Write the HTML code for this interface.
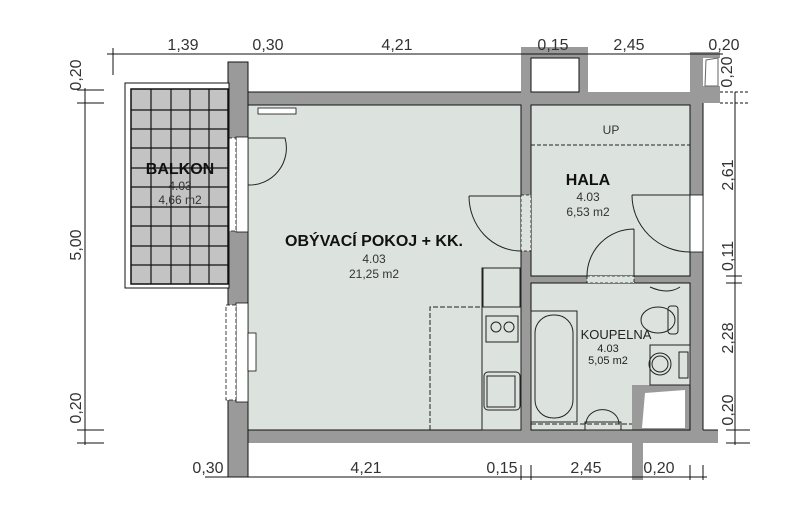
<!DOCTYPE html>
<html><head><meta charset="utf-8"><style>
html,body{margin:0;padding:0;background:#fff;width:794px;height:532px;overflow:hidden}
svg{display:block}
text{font-family:"Liberation Sans",sans-serif;fill:#222}
.d{font-size:16px;fill:#333}
.b{font-weight:bold;fill:#111}
.s{font-size:12px;fill:#333}
</style></head><body>
<svg width="794" height="532" viewBox="0 0 794 532" xmlns="http://www.w3.org/2000/svg">
<rect x="248" y="105" width="274" height="325" fill="#dce3df"/>
<rect x="531" y="105" width="160" height="171" fill="#dce3df"/>
<rect x="531" y="283" width="160" height="147" fill="#dce3df"/>
<g fill="#9a9a9a">
<rect x="228" y="62" width="20" height="415"/>
<rect x="248" y="92" width="455" height="13"/>
<rect x="521" y="47" width="10" height="383"/>
<rect x="531" y="47" width="57" height="11"/>
<rect x="579" y="47" width="9" height="45"/>
<rect x="690" y="52" width="13" height="391"/>
<rect x="703" y="52" width="17" height="6"/>
<rect x="703" y="86" width="17" height="17"/>
<rect x="531" y="276" width="160" height="7"/>
<rect x="228" y="430" width="490" height="13"/>
<rect x="632" y="385" width="58" height="45"/>
<rect x="632" y="430" width="11" height="50"/>
</g>
<g fill="none" stroke="#111" stroke-width="1">
<rect x="228" y="62" width="20" height="415"/>
<rect x="248" y="105" width="273" height="325"/>
<rect x="531" y="105" width="159" height="171"/>
<rect x="531" y="283" width="159" height="147"/>
<line x1="248" y1="92" x2="521" y2="92"/>
<rect x="531" y="58" width="48" height="34" fill="#fff"/>
<line x1="703" y1="103" x2="703" y2="430"/>
<line x1="703" y1="430" x2="718" y2="430"/>
</g>
<polygon points="706,60 718,58 718,86 705,86" fill="#fff" stroke="#666"/>
<polygon points="645,393 685,390 685,428 642,428" fill="#fff"/>
<rect x="521" y="195" width="10" height="56" fill="#dce3df" stroke="#111" stroke-width="0.8" stroke-dasharray="3,2"/>
<rect x="690" y="195" width="13" height="57" fill="#fff" stroke="#111" stroke-width="0.8"/>
<rect x="587" y="276" width="47" height="7" fill="#dce3df" stroke="#111" stroke-width="0.8" stroke-dasharray="3,2"/>
<g fill="#fff" stroke="#111" stroke-width="0.8">
<rect x="236" y="137" width="12" height="95"/>
<rect x="228" y="138" width="8" height="93" stroke-dasharray="4,2"/>
<rect x="236" y="303" width="12" height="99"/>
<rect x="226" y="305" width="10" height="95" stroke-dasharray="4,2"/>
<rect x="248" y="333" width="8" height="38"/>
<rect x="258" y="108" width="38" height="6"/>
</g>
<rect x="125" y="83" width="104" height="205" fill="#fff" stroke="#111"/>
<rect x="131" y="89" width="97" height="195" fill="#c3c3c3" stroke="#111" stroke-width="1.5"/>
<g stroke="#111" stroke-width="1.2">
<line x1="151" y1="89" x2="151" y2="284"/><line x1="171" y1="89" x2="171" y2="284"/>
<line x1="190" y1="89" x2="190" y2="284"/><line x1="209" y1="89" x2="209" y2="284"/>
<line x1="131" y1="110" x2="228" y2="110"/><line x1="131" y1="129" x2="228" y2="129"/>
<line x1="131" y1="148" x2="228" y2="148"/><line x1="131" y1="168" x2="228" y2="168"/>
<line x1="131" y1="187" x2="228" y2="187"/><line x1="131" y1="207" x2="228" y2="207"/>
<line x1="131" y1="226" x2="228" y2="226"/><line x1="131" y1="246" x2="228" y2="246"/>
<line x1="131" y1="265" x2="228" y2="265"/>
</g>
<g fill="none" stroke="#222" stroke-width="1">
<path d="M248,138 L285,138 A37,37 0 0 1 248,185"/>
<path d="M469,196 L521,196 M469,196 A52,55 0 0 0 521,251"/>
<path d="M632,195 L690,195 M632,195 A58,57 0 0 0 690,252"/>
<path d="M634,229 L634,276 M634,229 A47,47 0 0 0 587,276"/>
<line x1="531" y1="145" x2="690" y2="145" stroke-dasharray="4,2"/>
<rect x="482" y="268" width="39" height="162"/>
<rect x="483" y="268" width="37" height="39"/>
<rect x="486" y="316" width="32" height="26"/>
<circle cx="496" cy="327" r="5"/><circle cx="509" cy="327" r="5"/>
<rect x="484" y="372" width="36" height="38" rx="4"/>
<rect x="487" y="376" width="28" height="31"/>
<path d="M430,430 L430,307 L482,307" stroke-dasharray="5,2"/>
<rect x="531" y="311" width="46" height="111"/>
<rect x="535" y="315" width="38" height="103" rx="18"/>
<line x1="531" y1="424" x2="632" y2="424" stroke-dasharray="5,2"/>
<path d="M586,424 A16,14 0 1 1 619,424"/>
<rect x="585" y="422" width="36" height="8"/>
<ellipse cx="658" cy="320" rx="17" ry="13"/>
<rect x="668" y="306" width="10" height="28" rx="3"/>
<path d="M650,287 Q668,295 680,287"/>
<rect x="650" y="345" width="40" height="40"/>
<circle cx="660" cy="364" r="11"/><circle cx="660" cy="364" r="8"/>
<rect x="679" y="352" width="9" height="26"/>
</g>
<g stroke="#111" stroke-width="1" fill="none">
<line x1="107" y1="54" x2="723" y2="54"/>
<line x1="113" y1="48" x2="113" y2="75"/>
<line x1="85" y1="88" x2="85" y2="445"/>
<line x1="77" y1="90" x2="104" y2="90"/><line x1="77" y1="103" x2="104" y2="103"/>
<line x1="77" y1="430" x2="104" y2="430"/><line x1="77" y1="443" x2="104" y2="443"/>
<line x1="735" y1="92" x2="735" y2="445"/>
<line x1="720" y1="92" x2="750" y2="92" stroke-dasharray="3,2"/><line x1="720" y1="103" x2="750" y2="103" stroke-dasharray="3,2"/>
<line x1="726" y1="276" x2="742" y2="276"/><line x1="726" y1="283" x2="742" y2="283"/>
<line x1="726" y1="430" x2="750" y2="430"/><line x1="726" y1="443" x2="750" y2="443"/>
<line x1="205" y1="477" x2="707" y2="477"/>
<line x1="521" y1="465" x2="521" y2="480"/><line x1="531" y1="465" x2="531" y2="480"/>
<line x1="690" y1="465" x2="690" y2="480"/><line x1="703" y1="465" x2="703" y2="480"/>
</g>
<text class="d" x="183" y="50" text-anchor="middle">1,39</text>
<text class="d" x="268" y="50" text-anchor="middle">0,30</text>
<text class="d" x="397" y="50" text-anchor="middle">4,21</text>
<text class="d" x="553" y="50" text-anchor="middle">0,15</text>
<text class="d" x="629" y="50" text-anchor="middle">2,45</text>
<text class="d" x="724" y="50" text-anchor="middle">0,20</text>
<text class="d" x="208" y="473" text-anchor="middle">0,30</text>
<text class="d" x="366" y="473" text-anchor="middle">4,21</text>
<text class="d" x="502" y="473" text-anchor="middle">0,15</text>
<text class="d" x="586" y="473" text-anchor="middle">2,45</text>
<text class="d" x="659" y="473" text-anchor="middle">0,20</text>
<text class="d" transform="translate(81,75) rotate(-90)" text-anchor="middle">0,20</text>
<text class="d" transform="translate(81,245) rotate(-90)" text-anchor="middle">5,00</text>
<text class="d" transform="translate(81,408) rotate(-90)" text-anchor="middle">0,20</text>
<text class="d" transform="translate(732,72) rotate(-90)" text-anchor="middle">0,20</text>
<text class="d" transform="translate(733,175) rotate(-90)" text-anchor="middle">2,61</text>
<text class="d" transform="translate(733,256) rotate(-90)" text-anchor="middle">0,11</text>
<text class="d" transform="translate(733,338) rotate(-90)" text-anchor="middle">2,28</text>
<text class="d" transform="translate(733,410) rotate(-90)" text-anchor="middle">0,20</text>
<text class="b" x="180" y="174" text-anchor="middle" font-size="16">BALKON</text>
<text class="s" x="180" y="190" text-anchor="middle">4.03</text>
<text class="s" x="180" y="204" text-anchor="middle">4,66 m2</text>
<text class="b" x="374" y="246" text-anchor="middle" font-size="16">OBÝVACÍ POKOJ + KK.</text>
<text class="s" x="374" y="263" text-anchor="middle">4.03</text>
<text class="s" x="374" y="278" text-anchor="middle">21,25 m2</text>
<text class="s" x="611" y="134" text-anchor="middle">UP</text>
<text class="b" x="588" y="185" text-anchor="middle" font-size="16">HALA</text>
<text class="s" x="588" y="201" text-anchor="middle">4.03</text>
<text class="s" x="588" y="216" text-anchor="middle">6,53 m2</text>
<text x="616" y="339" text-anchor="middle" font-size="13" fill="#111">KOUPELNA</text>
<text x="608" y="352" text-anchor="middle" font-size="11" fill="#333">4.03</text>
<text x="608" y="364" text-anchor="middle" font-size="11" fill="#333">5,05 m2</text>
</svg>
</body></html>
